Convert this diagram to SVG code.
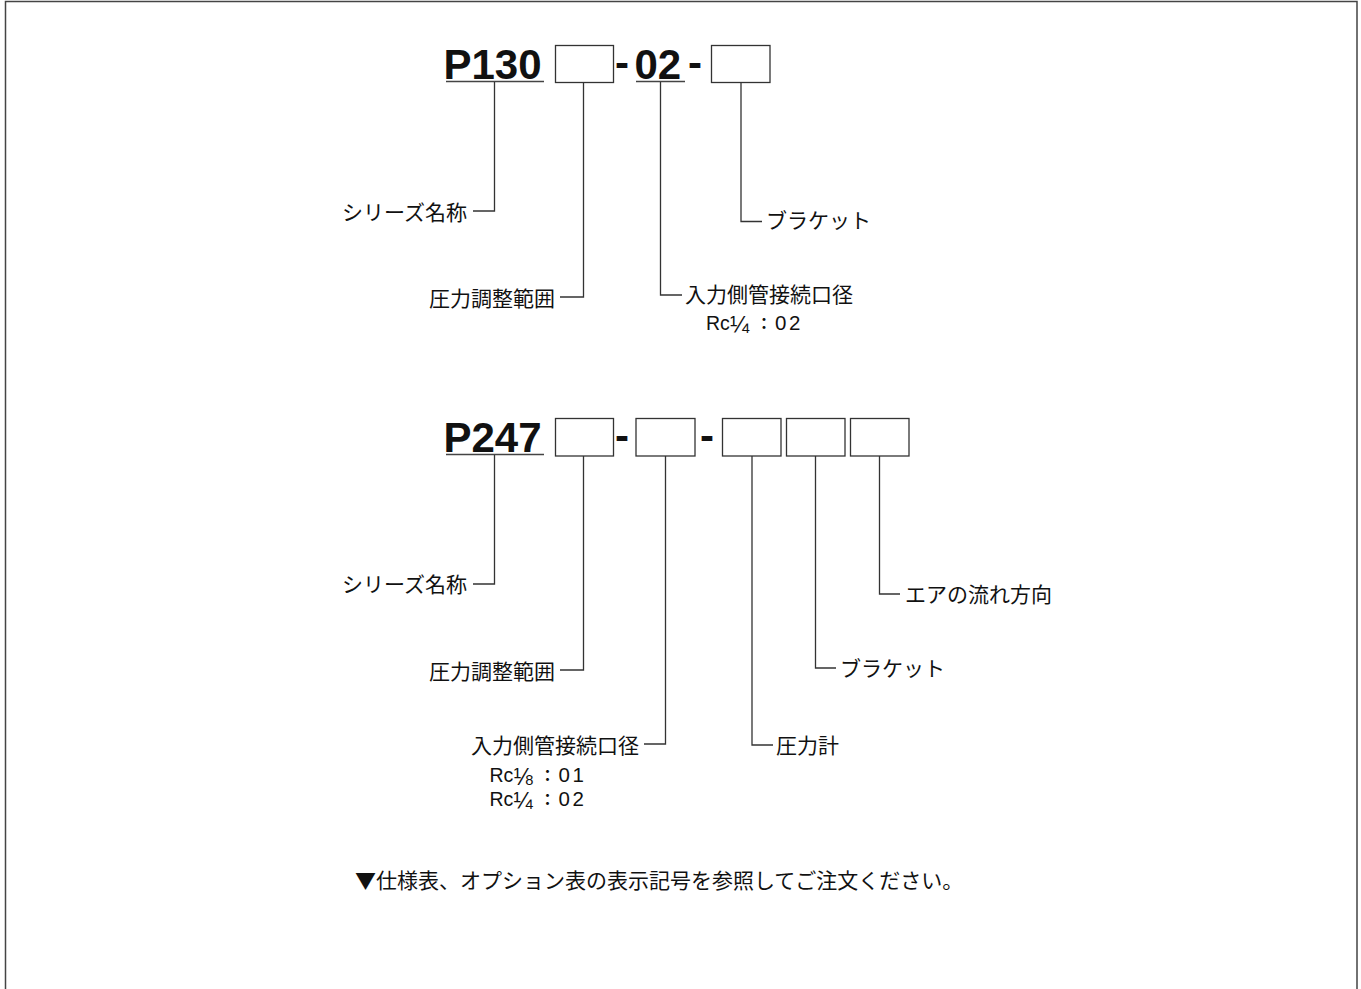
<svg xmlns="http://www.w3.org/2000/svg" width="1361" height="989" viewBox="0 0 1361 989">
<style>
.big{font-family:"Liberation Sans",Arial,sans-serif;font-weight:bold;font-size:42px;fill:#111}
.jp{font-family:"Noto Sans CJK JP","Noto Sans CJK SC",sans-serif;font-size:21px;fill:#111}
.rc{font-family:"Liberation Sans",Arial,sans-serif;font-size:19.5px;fill:#111}
.dg{font-size:20.5px;letter-spacing:2.5px}
.fr{font-size:23px}
.cl{font-family:"Noto Sans CJK JP","Noto Sans CJK SC",sans-serif;font-size:16px;font-weight:bold}
.box{fill:#fff;stroke:#333;stroke-width:1.3}
.ln{fill:none;stroke:#333;stroke-width:1.3}
.ul{fill:none;stroke:#444;stroke-width:1.6}
</style>
<rect width="1361" height="989" fill="#fff"/>
<path d="M5.5 989V1.5H1357V989" fill="none" stroke="#444" stroke-width="1.5"/>

<g id="code-p130">
  <text class="big" x="443.5" y="79">P130</text>
  <line class="ul" x1="446" y1="81.5" x2="544" y2="81.5"/>
  <rect class="box" x="555.5" y="45.5" width="58" height="37"/>
  <text class="big" x="615" y="77">-</text>
  <text class="big" x="634.5" y="79">02</text>
  <line class="ul" x1="636" y1="81.5" x2="685" y2="81.5"/>
  <text class="big" x="688" y="77">-</text>
  <rect class="box" x="711.5" y="45.5" width="58.5" height="37"/>
</g>

<g id="code-p247">
  <text class="big" x="443.5" y="452">P247</text>
  <line class="ul" x1="446" y1="454.5" x2="544" y2="454.5"/>
  <rect class="box" x="555.5" y="418.5" width="58" height="37.5"/>
  <text class="big" x="615" y="450">-</text>
  <rect class="box" x="636" y="418.5" width="59" height="37.5"/>
  <text class="big" x="700" y="450">-</text>
  <rect class="box" x="722.5" y="418.5" width="58.5" height="37.5"/>
  <rect class="box" x="786.5" y="418.5" width="58.5" height="37.5"/>
  <rect class="box" x="850.5" y="418.5" width="58.5" height="37.5"/>
</g>

<g id="connectors">
  <path class="ln" d="M494.5 82V211H473"/>
  <path class="ln" d="M583.5 83V297H560"/>
  <path class="ln" d="M660.5 82V295H682"/>
  <path class="ln" d="M741 83V221.5H762"/>
  <path class="ln" d="M494.5 455V584H473"/>
  <path class="ln" d="M583.5 456V670H560"/>
  <path class="ln" d="M665.5 456V744H644"/>
  <path class="ln" d="M752 456V745H773"/>
  <path class="ln" d="M815.5 456V668H836"/>
  <path class="ln" d="M879.5 456V594H900"/>
</g>

<g id="label-series-1"><text class="jp" x="342" y="220">シリーズ名称</text></g>
<g id="label-pressure-range-1"><text class="jp" x="429" y="306">圧力調整範囲</text></g>
<g id="label-port-1">
  <text class="jp" x="685" y="302">入力側管接続口径</text>
  <text class="rc"><tspan x="706" y="330">Rc</tspan><tspan class="fr" x="730" y="333">¼</tspan><tspan class="cl" x="756" y="329">：</tspan><tspan class="dg" x="775" y="330">02</tspan></text>
</g>
<g id="label-bracket-1"><text class="jp" x="766" y="228">ブラケット</text></g>

<g id="label-series-2"><text class="jp" x="342" y="592">シリーズ名称</text></g>
<g id="label-pressure-range-2"><text class="jp" x="429" y="679">圧力調整範囲</text></g>
<g id="label-port-2">
  <text class="jp" x="471" y="753">入力側管接続口径</text>
  <text class="rc"><tspan x="489.5" y="782">Rc</tspan><tspan class="fr" x="513.5" y="785">⅛</tspan><tspan class="cl" x="539.5" y="781">：</tspan><tspan class="dg" x="558.5" y="782">01</tspan></text>
  <text class="rc"><tspan x="489.5" y="806">Rc</tspan><tspan class="fr" x="513.5" y="809">¼</tspan><tspan class="cl" x="539.5" y="805">：</tspan><tspan class="dg" x="558.5" y="806">02</tspan></text>
</g>
<g id="label-gauge"><text class="jp" x="776" y="753">圧力計</text></g>
<g id="label-bracket-2"><text class="jp" x="840" y="676">ブラケット</text></g>
<g id="label-flow"><text class="jp" x="905" y="602">エアの流れ方向</text></g>

<g id="footnote"><text class="jp" x="355" y="888">▼仕様表、オプション表の表示記号を参照してご注文ください。</text></g>
</svg>
